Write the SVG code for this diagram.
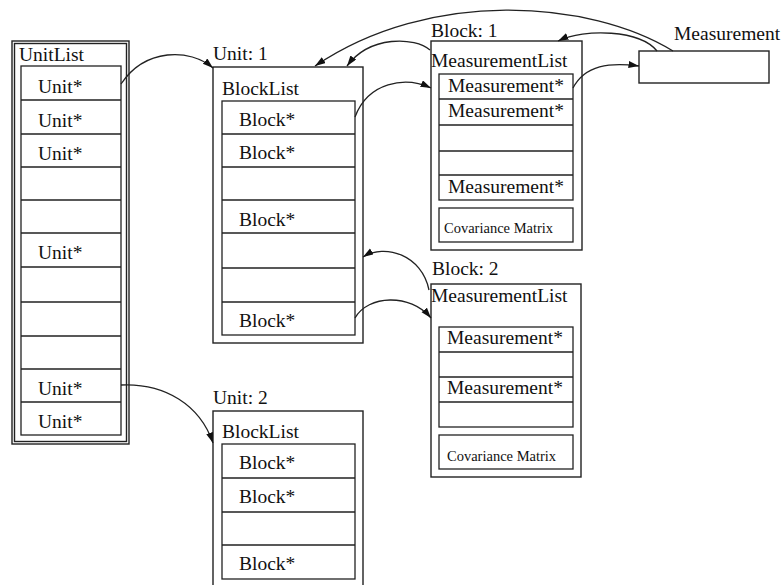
<svg xmlns="http://www.w3.org/2000/svg" width="784" height="585" viewBox="0 0 784 585">
  <style>
    .box { fill: none; stroke: #222; stroke-width: 1.4; }
    .cell { fill: none; stroke: #222; stroke-width: 1.3; }
    .t { font-family: "Liberation Serif", "Times New Roman", serif; font-size: 19.5px; fill: #111; }
    .s { font-family: "Liberation Serif", "Times New Roman", serif; font-size: 14.5px; fill: #111; }
    .edge { fill: none; stroke: #222; stroke-width: 1.3; marker-end: url(#arrow); }
  </style>
  <defs>
    <marker id="arrow" markerUnits="userSpaceOnUse" markerWidth="11" markerHeight="8" refX="10.5" refY="3.5" orient="auto">
      <path d="M0,0 L10.5,3.5 L0,7 z" fill="#111"/>
    </marker>
  </defs>

  <rect width="784" height="585" fill="#fff"/>

  <!-- UnitList: double-bordered container with 11 slots -->
  <g id="unitlist">
    <rect class="box" x="12" y="41" width="117" height="403"/>
    <rect class="box" x="14.5" y="43.5" width="112" height="398"/>
    <text class="t" x="19" y="61">UnitList</text>
    <rect class="cell" x="21" y="66" width="100" height="369"/>
    <path class="cell" d="M21,100H121M21,134H121M21,167H121M21,200H121M21,233H121M21,267H121M21,302H121M21,336H121M21,369H121M21,402H121"/>
    <text class="t" x="38" y="93">Unit*</text>
    <text class="t" x="38" y="127">Unit*</text>
    <text class="t" x="38" y="160">Unit*</text>
    <text class="t" x="38" y="259">Unit*</text>
    <text class="t" x="38" y="395">Unit*</text>
    <text class="t" x="38" y="428">Unit*</text>
  </g>

  <!-- Unit 1 with its BlockList -->
  <g id="unit1">
    <text class="t" x="213" y="60">Unit: 1</text>
    <rect class="box" x="213" y="67" width="150" height="276"/>
    <text class="t" x="222" y="95">BlockList</text>
    <rect class="cell" x="222" y="101" width="133" height="234"/>
    <path class="cell" d="M222,134H355M222,167H355M222,200H355M222,233H355M222,268H355M222,302H355"/>
    <text class="t" x="239" y="126">Block*</text>
    <text class="t" x="239" y="159">Block*</text>
    <text class="t" x="239" y="226">Block*</text>
    <text class="t" x="239" y="327">Block*</text>
  </g>

  <!-- Unit 2 with its BlockList -->
  <g id="unit2">
    <text class="t" x="213" y="404">Unit: 2</text>
    <rect class="box" x="213" y="411" width="150" height="190"/>
    <text class="t" x="222" y="438">BlockList</text>
    <rect class="cell" x="222" y="444" width="133" height="135"/>
    <path class="cell" d="M222,478H355M222,512H355M222,545H355"/>
    <text class="t" x="239" y="469">Block*</text>
    <text class="t" x="239" y="503">Block*</text>
    <text class="t" x="239" y="570">Block*</text>
  </g>

  <!-- Block 1: MeasurementList + Covariance Matrix -->
  <g id="block1">
    <text class="t" x="431" y="37">Block: 1</text>
    <rect class="box" x="431" y="41" width="151" height="209"/>
    <text class="t" x="431" y="67">MeasurementList</text>
    <rect class="cell" x="439" y="74" width="134" height="126"/>
    <path class="cell" d="M439,99H573M439,125H573M439,151H573M439,175H573"/>
    <text class="t" x="448" y="92">Measurement*</text>
    <text class="t" x="448" y="117">Measurement*</text>
    <text class="t" x="448" y="193">Measurement*</text>
    <rect class="cell" x="439" y="208" width="134" height="34"/>
    <text class="s" x="444" y="233">Covariance Matrix</text>
  </g>

  <!-- Block 2: MeasurementList + Covariance Matrix -->
  <g id="block2">
    <text class="t" x="432" y="275">Block: 2</text>
    <rect class="box" x="431" y="284" width="150" height="193"/>
    <text class="t" x="431" y="302">MeasurementList</text>
    <rect class="cell" x="439" y="327" width="134" height="100"/>
    <path class="cell" d="M439,352H573M439,377H573M439,402H573"/>
    <text class="t" x="447" y="344">Measurement*</text>
    <text class="t" x="447" y="394">Measurement*</text>
    <rect class="cell" x="439" y="435" width="134" height="34"/>
    <text class="s" x="447" y="461">Covariance Matrix</text>
  </g>

  <!-- Measurement -->
  <g id="measurement">
    <text class="t" x="674" y="40">Measurement</text>
    <rect class="box" x="639" y="51" width="130" height="32"/>
  </g>

  <!-- Pointer connectors -->
  <g id="connectors">
    <path class="edge" d="M121,84 C145,48 190,48 213,68"/>
    <path class="edge" d="M121,385 C165,383 200,405 213,443"/>
    <path class="edge" d="M355,117 C368,82 405,76 431,88"/>
    <path class="edge" d="M355,318 C368,295 410,293 431,318"/>
    <path class="edge" d="M429,290 C422,255 385,243 363,257"/>
    <path class="edge" d="M673,51 C590,0 430,-12 315,66"/>
    <path class="edge" d="M657,51 C640,30 585,28 558,41"/>
    <path class="edge" d="M430,50 C415,37 370,35 347,66"/>
    <path class="edge" d="M573,88 C585,65 610,62 639,66"/>
  </g>
</svg>
